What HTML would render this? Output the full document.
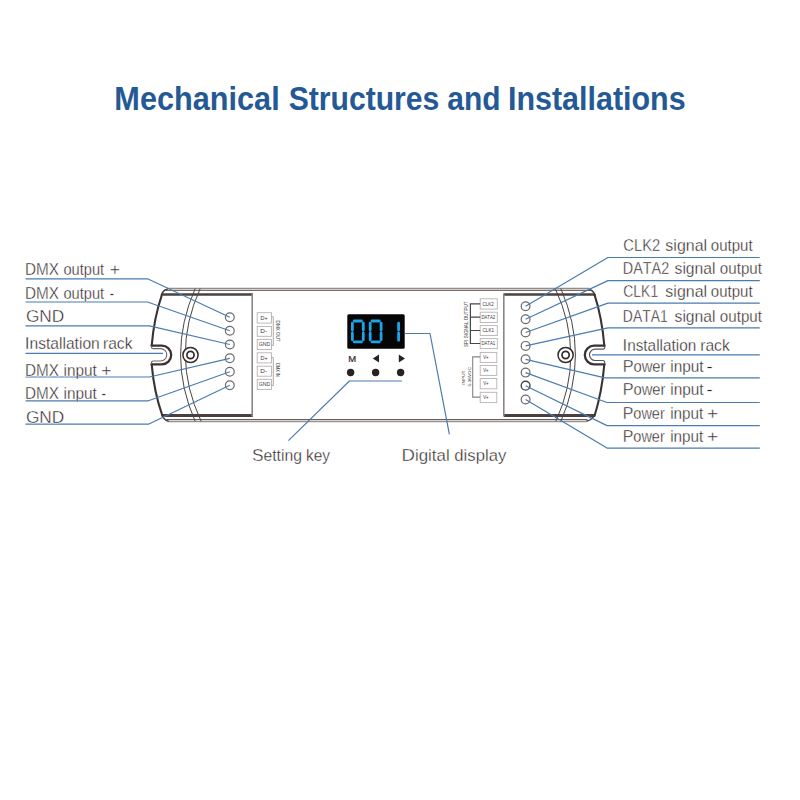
<!DOCTYPE html>
<html><head><meta charset="utf-8">
<style>
html,body{margin:0;padding:0;background:#fff;width:800px;height:800px;overflow:hidden}
svg{display:block}
text{font-family:"Liberation Sans",sans-serif;font-kerning:none}
</style></head>
<body>
<svg width="800" height="800" viewBox="0 0 800 800">
<!-- Title -->
<g font-size="33" font-weight="bold" fill="#245995">
  <text x="114.35" y="109.8" textLength="165.32" lengthAdjust="spacingAndGlyphs">Mechanical</text>
  <text x="288.63" y="109.8" textLength="150.70" lengthAdjust="spacingAndGlyphs">Structures</text>
  <text x="447.22" y="109.8" textLength="53.25" lengthAdjust="spacingAndGlyphs">and</text>
  <text x="507.96" y="109.8" textLength="177.69" lengthAdjust="spacingAndGlyphs">Installations</text>
</g>


<!-- ===== Device body ===== -->
<g fill="none" stroke-linecap="round">
  <!-- outer band top -->
  <path d="M167,288.3 L589,288.3" stroke="#7a6e68" stroke-width="1"/>
  <path d="M166,290.3 L590,290.3" stroke="#4a3e3a" stroke-width="1.1"/>
  <!-- outer band bottom -->
  <path d="M167,419.6 L587,419.6" stroke="#665c58" stroke-width="1.2"/>
  <path d="M168,421.7 L586,421.7" stroke="#9a9290" stroke-width="1.2"/>
  <!-- inner thick lines -->
  <path d="M163,294.5 L253,294.5" stroke="#4a4040" stroke-width="2.6" stroke-linecap="butt"/>
  <path d="M163,415.4 L253,415.4" stroke="#4a4040" stroke-width="3" stroke-linecap="butt"/>
  <path d="M504,294.5 L594,294.5" stroke="#4a4040" stroke-width="2.6" stroke-linecap="butt"/>
  <path d="M504,415.4 L594,415.4" stroke="#4a4040" stroke-width="3" stroke-linecap="butt"/>
  <!-- panels vertical edges -->
  <path d="M252.2,294 L252.2,416" stroke="#8a8585" stroke-width="1.6"/>
  <path d="M503.8,294 L503.8,416" stroke="#8a8585" stroke-width="1.6"/>
  <!-- left corners (outer band into edge) -->
  <path d="M167,289.5 Q163,290 161.5,295" stroke="#4a4040" stroke-width="1.6"/>
  <path d="M168,421 Q164,420 162,415" stroke="#4a4040" stroke-width="1.6"/>
  <!-- right corners -->
  <path d="M589,289.5 Q593,290 595,295" stroke="#4a4040" stroke-width="1.6"/>
  <path d="M587,421 Q592,420 594.5,415" stroke="#4a4040" stroke-width="1.6"/>
  <!-- left edge arc, interrupted by notch -->
  <path d="M162,294.5 Q154,318 151.7,345.6" stroke="#3a3232" stroke-width="2.1"/>
  <path d="M151.7,364.4 Q154,392 162.5,416" stroke="#3a3232" stroke-width="2.1"/>
  <!-- left notch -->
  <path d="M151.6,345.6 L161.8,345.6 A9.4,9.4 0 0 1 161.8,364.4 L151.6,364.4" stroke="#3a3232" stroke-width="2.3"/>
  <path d="M151.4,346.4 Q151.2,348.6 153.4,348.6 L160.6,348.6 A6.2,6.2 0 0 1 160.6,361 L153.4,361 Q151.2,361 151.4,363.6" stroke="#6e6666" stroke-width="1.1"/>
  <!-- right edge arc, interrupted by notch -->
  <path d="M594.5,294.5 Q602,318 604.3,345.5" stroke="#3a3232" stroke-width="2.1"/>
  <path d="M604.3,364.5 Q602,392 594.5,416" stroke="#3a3232" stroke-width="2.1"/>
  <!-- right notch -->
  <path d="M604.5,345.6 L594.2,345.6 A9.4,9.4 0 0 0 594.2,364.4 L604.5,364.4" stroke="#3a3232" stroke-width="2.3"/>
  <path d="M604.7,346.4 Q605,349.2 602.8,349.2 L595.1,349.2 A5.65,5.65 0 0 0 595.1,360.5 L602.8,360.5 Q605,360.5 604.7,363.6" stroke="#5a5252" stroke-width="1.2"/>
  <!-- left double arc -->
  <path d="M195,289 Q166,355 195,421" stroke="#4a4242" stroke-width="1"/>
  <path d="M200,289 Q170,355 201,421" stroke="#4a4242" stroke-width="1"/>
  <!-- right double arc -->
  <path d="M555.5,289 Q586,355 556,421" stroke="#4a4242" stroke-width="1"/>
  <path d="M561,289 Q590,355 561,421" stroke="#4a4242" stroke-width="1"/>
  <!-- screws -->
  <circle cx="190.5" cy="355" r="7.6" stroke="#342c2c" stroke-width="1.5" fill="#fff"/>
  <circle cx="190.5" cy="355" r="3.6" stroke="#342c2c" stroke-width="1.7"/>
  <circle cx="565.6" cy="355" r="7.6" stroke="#342c2c" stroke-width="1.5" fill="#fff"/>
  <circle cx="565.6" cy="355" r="3.6" stroke="#342c2c" stroke-width="1.7"/>
</g>

<!-- left connector boxes -->
<g fill="none" stroke="#b8b2b2" stroke-width="0.9">
  <rect x="257.2" y="312.7" width="14.3" height="10.4"/>
  <rect x="257.2" y="326.4" width="14.3" height="9.9"/>
  <rect x="257.2" y="339.4" width="14.3" height="10.2"/>
  <rect x="257.2" y="352.8" width="14.3" height="10.1"/>
  <rect x="257.2" y="366.2" width="14.3" height="10.0"/>
  <rect x="257.2" y="379.3" width="14.3" height="10.1"/>
</g>
<g fill="none" stroke="#9a9494" stroke-width="0.8">
  <path d="M271.5,316.8 H273.3 V345.4 H271.5"/>
  <path d="M271.5,357.6 H273.3 V385.6 H271.5"/>
</g>
<g fill="#3e3838">
  <text x="260.43" y="319.6" font-size="5.0" textLength="7.19" lengthAdjust="spacingAndGlyphs">D+</text>
  <text x="260.37" y="333.05" font-size="5.0" textLength="6.79" lengthAdjust="spacingAndGlyphs">D-</text>
  <text x="258.69" y="346.2" font-size="5.0" textLength="11.43" lengthAdjust="spacingAndGlyphs">GND</text>
  <text x="260.43" y="359.55" font-size="5.0" textLength="7.19" lengthAdjust="spacingAndGlyphs">D+</text>
  <text x="260.37" y="372.9" font-size="5.0" textLength="6.79" lengthAdjust="spacingAndGlyphs">D-</text>
  <text x="258.69" y="386.05" font-size="5.0" textLength="11.43" lengthAdjust="spacingAndGlyphs">GND</text>
  <text transform="translate(276.3,320.9) rotate(90)" x="-0.31" y="0" font-size="4.6" textLength="21.05" lengthAdjust="spacingAndGlyphs">DMX OUT</text>
  <text transform="translate(276.3,363.5) rotate(90)" x="-0.26" y="0" font-size="4.6" textLength="13.52" lengthAdjust="spacingAndGlyphs">DMX IN</text>
</g>
<!-- right connector boxes -->
<g fill="none" stroke="#b8b2b2" stroke-width="0.9">
  <rect x="480.2" y="298.8" width="17.1" height="10.3"/>
  <rect x="480.2" y="312.2" width="17.1" height="10.3"/>
  <rect x="480.2" y="325.6" width="17.1" height="9.9"/>
  <rect x="480.2" y="338.6" width="17.1" height="10.0"/>
  <rect x="480.2" y="352.4" width="16.6" height="10.0"/>
  <rect x="480.2" y="365.5" width="16.6" height="9.9"/>
  <rect x="480.2" y="378.5" width="16.6" height="10.3"/>
  <rect x="480.2" y="392.3" width="16.6" height="10.3"/>
</g>
<g fill="none" stroke="#4a4444" stroke-width="1.2">
  <path d="M480.2,303.9 H470.4 V343.5 H480.2 M470.4,317.2 H480.2 M470.4,330.5 H480.2"/>
</g>
<g fill="none" stroke="#8a8484" stroke-width="1.1">
  <path d="M480.2,356.9 H472.7 V397.1 H480.2"/>
</g>
<g fill="#3e3838">
  <text x="482.52" y="305.55" font-size="4.6" textLength="11.35" lengthAdjust="spacingAndGlyphs">CLK2</text>
  <text x="481.42" y="318.95" font-size="4.6" textLength="13.84" lengthAdjust="spacingAndGlyphs">DATA2</text>
  <text x="482.52" y="332.15" font-size="4.6" textLength="11.61" lengthAdjust="spacingAndGlyphs">CLK1</text>
  <text x="481.42" y="345.2" font-size="4.6" textLength="13.79" lengthAdjust="spacingAndGlyphs">DATA1</text>
  <text x="483.17" y="359.0" font-size="4.6" textLength="5.51" lengthAdjust="spacingAndGlyphs">V+</text>
  <text x="483.17" y="372.05" font-size="4.6" textLength="5.51" lengthAdjust="spacingAndGlyphs">V+</text>
  <text x="483.17" y="385.25" font-size="4.6" textLength="5.51" lengthAdjust="spacingAndGlyphs">V+</text>
  <text x="483.17" y="399.05" font-size="4.6" textLength="5.51" lengthAdjust="spacingAndGlyphs">V+</text>
  <text transform="translate(468.3,346.9) rotate(-90)" x="-0.13" y="0" font-size="4.6" textLength="45.58" lengthAdjust="spacingAndGlyphs">SPI SIGNAL OUTPUT</text>
  <text transform="translate(465.3,384.4) rotate(-90)" x="-0.32" y="0" font-size="4.3" textLength="14.17" lengthAdjust="spacingAndGlyphs">INPUT</text>
  <text transform="translate(471.2,386.4) rotate(-90)" x="-0.15" y="0" font-size="4.3" textLength="19.48" lengthAdjust="spacingAndGlyphs">5-36VDC</text>
</g>

<!-- display -->
<rect x="347.3" y="314.2" width="57.4" height="34.6" rx="1.5" fill="#050505"/>
<g fill="none" stroke="#1ea2ea" stroke-width="2.8" stroke-linecap="round">
  <!-- digit 0 #1 -->
  <path d="M354.2,321 H361.5"/>
  <path d="M354.2,341.9 H361.5"/>
  <path d="M352.4,323.1 V330 M352.4,332.9 V339.8"/>
  <path d="M363.3,323.1 V330 M363.3,332.9 V339.8"/>
  <!-- digit 0 #2 -->
  <path d="M372,321 H379.3"/>
  <path d="M372,341.9 H379.3"/>
  <path d="M370.2,323.1 V330 M370.2,332.9 V339.8"/>
  <path d="M381.1,323.1 V330 M381.1,332.9 V339.8"/>
  <!-- digit 1 -->
  <path d="M398.6,323.2 V330 M398.6,333 V340.3"/>
</g>
<!-- keys -->
<text x="348.3" y="362" font-size="9.2" fill="#2e2828" stroke="#2e2828" stroke-width="0.2" textLength="7.9" lengthAdjust="spacingAndGlyphs">M</text>
<path d="M372.8,358.5 L379,354.6 L379,362.4 Z" fill="#2a2222"/>
<path d="M398.8,354.6 L405,358.5 L398.8,362.4 Z" fill="#2a2222"/>
<circle cx="350.6" cy="372.5" r="3.7" fill="#2a2222"/>
<circle cx="375.6" cy="372.5" r="3.7" fill="#2a2222"/>
<circle cx="400.6" cy="372.5" r="3.7" fill="#2a2222"/>

<!-- connector circles -->
<g fill="none" stroke="#6e6868" stroke-width="1.2">
  <circle cx="229.8" cy="317.2" r="4.4"/>
  <circle cx="229.8" cy="330.8" r="4.4"/>
  <circle cx="229.8" cy="344.5" r="4.4"/>
  <circle cx="229.8" cy="358.3" r="4.4"/>
  <circle cx="229.8" cy="371.7" r="4.4"/>
  <circle cx="229.8" cy="385.2" r="4.4"/>

  <circle cx="525.6" cy="306.2" r="4.4"/>
  <circle cx="525.6" cy="319.3" r="4.4"/>
  <circle cx="525.6" cy="332.5" r="4.4"/>
  <circle cx="525.6" cy="345.9" r="4.4"/>
  <circle cx="525.6" cy="359.3" r="4.4"/>
  <circle cx="525.6" cy="372.6" r="4.4"/>
  <circle cx="525.6" cy="385.7" r="4.4" stroke="#444" stroke-width="1.4"/>
  <circle cx="525.6" cy="399.5" r="4.4"/>
</g>

<!-- ===== blue leader lines ===== -->
<g fill="none" stroke="#4a7cb0" stroke-width="1.2" stroke-linejoin="round">
  <path d="M25.5,278.8 H147.5 L229.8,317.2"/>
  <path d="M25.5,302 H147.5 L229.8,330.8"/>
  <path d="M25.5,325.9 H149.4 L229.8,344.5"/>
  <path d="M25.5,353.3 H163"/>
  <path d="M25.5,377 H149.4 L229.8,358.3"/>
  <path d="M25.5,400.8 H148.4 L229.8,371.7"/>
  <path d="M25.5,424.2 H148.4 L229.8,385.2"/>

  <path d="M759.8,257.5 H607.9 L525.6,306.2"/>
  <path d="M759.8,280.6 H607.9 L525.6,319.3"/>
  <path d="M759.8,303.1 H607.9 L525.6,332.5"/>
  <path d="M759.8,327.9 H607.9 L525.6,345.9"/>
  <path d="M759.8,354.8 H592"/>
  <path d="M759.8,377.9 H605 L525.6,359.3"/>
  <path d="M759.8,402.5 H607 L525.6,372.6"/>
  <path d="M759.8,425.6 H607 L525.6,385.7"/>
  <path d="M759.8,448.1 H607 L525.6,399.5"/>

  <path d="M404.7,333.5 H430 L449.4,434.4"/>
  <path d="M401.9,381 H349.4 L288.4,440.6"/>
</g>


<g font-size="17.4" fill="#282020" stroke="#fff" stroke-width="0.34">
  <text x="24.99" y="274.75" textLength="34.08" lengthAdjust="spacingAndGlyphs"><tspan stroke-width="0.42">DMX</tspan></text>
  <text x="63.38" y="274.75" textLength="40.72" lengthAdjust="spacingAndGlyphs"><tspan font-size="15.8">output</tspan></text>
  <text x="109.65" y="274.75" textLength="10.22" lengthAdjust="spacingAndGlyphs"><tspan font-size="15.8">+</tspan></text>
  <text x="24.99" y="298.75" textLength="34.08" lengthAdjust="spacingAndGlyphs"><tspan stroke-width="0.42">DMX</tspan></text>
  <text x="63.38" y="298.75" textLength="40.72" lengthAdjust="spacingAndGlyphs"><tspan font-size="15.8">output</tspan></text>
  <text x="109.74" y="298.75" textLength="4.23" lengthAdjust="spacingAndGlyphs"><tspan font-size="15.8">-</tspan></text>
  <text x="25.88" y="321.6" textLength="38.45" lengthAdjust="spacingAndGlyphs"><tspan stroke-width="0.42">GND</tspan></text>
  <text x="24.71" y="348.5" textLength="75.05" lengthAdjust="spacingAndGlyphs"><tspan stroke-width="0.42">I</tspan><tspan font-size="15.8">nstallation</tspan></text>
  <text x="102.96" y="348.5" textLength="29.51" lengthAdjust="spacingAndGlyphs"><tspan font-size="15.8">rack</tspan></text>
  <text x="25.05" y="375.7" textLength="33.98" lengthAdjust="spacingAndGlyphs"><tspan stroke-width="0.42">DMX</tspan></text>
  <text x="63.57" y="375.7" textLength="33.34" lengthAdjust="spacingAndGlyphs"><tspan font-size="15.8">input</tspan></text>
  <text x="101.15" y="375.7" textLength="10.22" lengthAdjust="spacingAndGlyphs"><tspan font-size="15.8">+</tspan></text>
  <text x="25.05" y="399.1" textLength="33.98" lengthAdjust="spacingAndGlyphs"><tspan stroke-width="0.42">DMX</tspan></text>
  <text x="63.57" y="399.1" textLength="33.34" lengthAdjust="spacingAndGlyphs"><tspan font-size="15.8">input</tspan></text>
  <text x="101.40" y="399.1" textLength="4.50" lengthAdjust="spacingAndGlyphs"><tspan font-size="15.8">-</tspan></text>
  <text x="25.88" y="423.1" textLength="38.45" lengthAdjust="spacingAndGlyphs"><tspan stroke-width="0.42">GND</tspan></text>
  <text x="623.25" y="251.1" textLength="36.99" lengthAdjust="spacingAndGlyphs"><tspan stroke-width="0.42">CLK2</tspan></text>
  <text x="665.36" y="251.1" textLength="41.71" lengthAdjust="spacingAndGlyphs"><tspan font-size="15.8">signal</tspan></text>
  <text x="710.87" y="251.1" textLength="41.74" lengthAdjust="spacingAndGlyphs"><tspan font-size="15.8">output</tspan></text>
  <text x="622.82" y="274" textLength="46.41" lengthAdjust="spacingAndGlyphs"><tspan stroke-width="0.42">DATA2</tspan></text>
  <text x="674.56" y="274" textLength="40.99" lengthAdjust="spacingAndGlyphs"><tspan font-size="15.8">signal</tspan></text>
  <text x="719.86" y="274" textLength="42.05" lengthAdjust="spacingAndGlyphs"><tspan font-size="15.8">output</tspan></text>
  <text x="623.29" y="297.2" textLength="34.89" lengthAdjust="spacingAndGlyphs"><tspan stroke-width="0.42">CLK1</tspan></text>
  <text x="665.36" y="297.2" textLength="41.71" lengthAdjust="spacingAndGlyphs"><tspan font-size="15.8">signal</tspan></text>
  <text x="710.87" y="297.2" textLength="41.74" lengthAdjust="spacingAndGlyphs"><tspan font-size="15.8">output</tspan></text>
  <text x="622.86" y="322" textLength="44.82" lengthAdjust="spacingAndGlyphs"><tspan stroke-width="0.42">DATA1</tspan></text>
  <text x="674.56" y="322" textLength="40.99" lengthAdjust="spacingAndGlyphs"><tspan font-size="15.8">signal</tspan></text>
  <text x="719.86" y="322" textLength="42.05" lengthAdjust="spacingAndGlyphs"><tspan font-size="15.8">output</tspan></text>
  <text x="622.44" y="350.75" textLength="73.81" lengthAdjust="spacingAndGlyphs"><tspan stroke-width="0.42">I</tspan><tspan font-size="15.8">nstallation</tspan></text>
  <text x="700.21" y="350.75" textLength="29.51" lengthAdjust="spacingAndGlyphs"><tspan font-size="15.8">rack</tspan></text>
  <text x="622.67" y="371.75" textLength="42.83" lengthAdjust="spacingAndGlyphs"><tspan stroke-width="0.42">P</tspan><tspan font-size="15.8">ower</tspan></text>
  <text x="670.22" y="371.75" textLength="33.39" lengthAdjust="spacingAndGlyphs"><tspan font-size="15.8">input</tspan></text>
  <text x="706.43" y="371.75" textLength="6.14" lengthAdjust="spacingAndGlyphs"><tspan font-size="15.8">-</tspan></text>
  <text x="622.67" y="395.2" textLength="42.83" lengthAdjust="spacingAndGlyphs"><tspan stroke-width="0.42">P</tspan><tspan font-size="15.8">ower</tspan></text>
  <text x="670.22" y="395.2" textLength="33.39" lengthAdjust="spacingAndGlyphs"><tspan font-size="15.8">input</tspan></text>
  <text x="706.43" y="395.2" textLength="6.14" lengthAdjust="spacingAndGlyphs"><tspan font-size="15.8">-</tspan></text>
  <text x="622.69" y="418.75" textLength="42.05" lengthAdjust="spacingAndGlyphs"><tspan stroke-width="0.42">P</tspan><tspan font-size="15.8">ower</tspan></text>
  <text x="670.23" y="418.75" textLength="33.08" lengthAdjust="spacingAndGlyphs"><tspan font-size="15.8">input</tspan></text>
  <text x="707.07" y="418.75" textLength="11.18" lengthAdjust="spacingAndGlyphs"><tspan font-size="15.8">+</tspan></text>
  <text x="622.69" y="441.6" textLength="42.05" lengthAdjust="spacingAndGlyphs"><tspan stroke-width="0.42">P</tspan><tspan font-size="15.8">ower</tspan></text>
  <text x="670.23" y="441.6" textLength="33.08" lengthAdjust="spacingAndGlyphs"><tspan font-size="15.8">input</tspan></text>
  <text x="707.07" y="441.6" textLength="11.18" lengthAdjust="spacingAndGlyphs"><tspan font-size="15.8">+</tspan></text>
  <text x="251.91" y="460.8" textLength="50.00" lengthAdjust="spacingAndGlyphs"><tspan stroke-width="0.42">S</tspan><tspan font-size="15.8">etting</tspan></text>
  <text x="305.95" y="460.8" textLength="24.18" lengthAdjust="spacingAndGlyphs"><tspan font-size="15.8">key</tspan></text>
  <text x="401.47" y="460.7" textLength="48.26" lengthAdjust="spacingAndGlyphs"><tspan stroke-width="0.42">D</tspan><tspan font-size="15.8">igital</tspan></text>
  <text x="454.30" y="460.7" textLength="52.03" lengthAdjust="spacingAndGlyphs"><tspan font-size="15.8">display</tspan></text>
</g>
</svg>
</body></html>
